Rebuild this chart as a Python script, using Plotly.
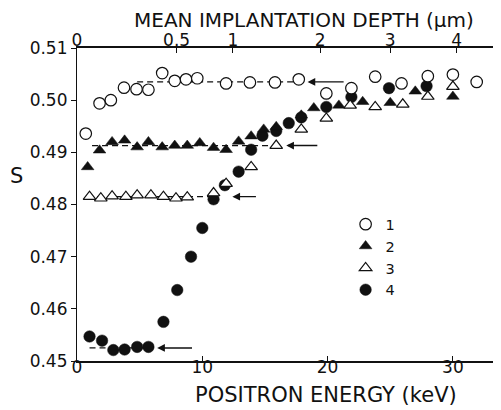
import plotly.graph_objects as go

# ---------------- data ----------------
e1 = [0.7, 1.8, 2.7, 3.75, 4.75, 5.7, 6.8, 7.8, 8.7, 9.6, 11.9, 13.8, 15.8, 17.7,
      19.9, 21.9, 23.8, 25.9, 28.0, 30.0, 31.9]
s1 = [0.4936, 0.4994, 0.5000, 0.5024, 0.5021, 0.5020, 0.5052, 0.5037, 0.5040, 0.5042,
      0.5032, 0.5034, 0.5034, 0.5040, 0.5013, 0.5023, 0.5045, 0.5032, 0.5046, 0.5049, 0.5035]

e2 = [0.85, 1.8, 2.8, 3.8, 4.8, 5.7, 6.8, 7.8, 8.8, 9.8, 10.9, 11.9, 12.9, 13.9, 14.9,
      15.9, 17.9, 18.9, 20.9, 22.8, 25.0, 27.0, 30.0]
s2 = [0.4872, 0.4904, 0.4920, 0.4923, 0.4910, 0.4920, 0.4910, 0.4913, 0.4913, 0.4918,
      0.4909, 0.4905, 0.4921, 0.4931, 0.4944, 0.4949, 0.4971, 0.4985, 0.4990, 0.4997,
      0.4995, 0.5017, 0.5007]

e3 = [1.0, 1.9, 2.8, 3.9, 4.8, 5.9, 6.9, 7.9, 8.8, 10.9, 11.9, 13.9, 15.9, 17.9, 19.9,
      21.8, 23.8, 26.0, 28.0, 30.0]
s3 = [0.4815, 0.4812, 0.4816, 0.4815, 0.4818, 0.4818, 0.4815, 0.4812, 0.4814, 0.4822,
      0.4840, 0.4872, 0.4913, 0.4944, 0.4965, 0.4990, 0.4987, 0.4992, 0.5007, 0.5026]

e4 = [1.0, 2.0, 2.9, 3.8, 4.8, 5.7, 6.9, 8.0, 9.1, 10.0, 10.9, 11.8, 12.9, 13.9, 14.8,
      15.9, 16.9, 17.9, 19.9, 21.9, 24.9, 27.9]
s4 = [0.4547, 0.4539, 0.4521, 0.4522, 0.4527, 0.4527, 0.4575, 0.4636, 0.4700, 0.4755,
      0.4810, 0.4837, 0.4863, 0.4905, 0.4932, 0.4941, 0.4956, 0.4967, 0.4987, 0.5006,
      0.5023, 0.5027]

series_names = ["1", "2", "3", "4"]

# plateau guide lines (dashed) and arrows, per series 1..4
plateau_level = [0.5035, 0.4913, 0.4815, 0.4525]
plateau_from = [4.8, 1.2, 0.8, 1.0]
plateau_to = [17.7, 15.5, 11.0, 6.0]
arrow_tail = [21.4, 19.3, 14.4, 9.3]
arrow_head = [18.4, 16.7, 12.4, 6.4]

# top axis: mean implantation depth (um) ticks at positron energies (keV)
depth_labels = ["0", "0.5", "1", "2", "3", "4"]
depth_tick_energy = [0.0, 7.95, 12.45, 19.4, 25.0, 30.3]

x_ticks = [0, 10, 20, 30]
y_ticks = [0.45, 0.46, 0.47, 0.48, 0.49, 0.50, 0.51]
y_tick_text = ["0.45", "0.46", "0.47", "0.48", "0.49", "0.50", "0.51"]

# ---------------- figure ----------------
FONT = "DejaVu Sans"
INK = "#111111"
fig = go.Figure()

for lvl, a, b in zip(plateau_level, plateau_from, plateau_to):
    fig.add_trace(go.Scatter(x=[a, b], y=[lvl, lvl], mode="lines",
                             line=dict(color=INK, width=1.2, dash="6px,4px"),
                             showlegend=False, hoverinfo="skip"))

mk_size = 11.5
tri_size = 11
fig.add_trace(go.Scatter(x=e4, y=s4, mode="markers", name=series_names[3], legendrank=4,
                         marker=dict(symbol="circle", size=mk_size, color=INK,
                                     line=dict(color=INK, width=0.5))))
fig.add_trace(go.Scatter(x=e2, y=s2, mode="markers", name=series_names[1], legendrank=2,
                         marker=dict(symbol="triangle-up", size=tri_size, color=INK,
                                     line=dict(color=INK, width=0.5))))
fig.add_trace(go.Scatter(x=e3, y=s3, mode="markers", name=series_names[2], legendrank=3,
                         marker=dict(symbol="triangle-up", size=tri_size, color="white",
                                     line=dict(color=INK, width=1.2))))
fig.add_trace(go.Scatter(x=e1, y=s1, mode="markers", name=series_names[0], legendrank=1,
                         marker=dict(symbol="circle", size=mk_size, color="white",
                                     line=dict(color=INK, width=1.2))))

# invisible trace to activate the top axis
fig.add_trace(go.Scatter(x=depth_tick_energy, y=[None] * len(depth_tick_energy),
                         xaxis="x2", showlegend=False, hoverinfo="skip"))

for lvl, t, h in zip(plateau_level, arrow_tail, arrow_head):
    fig.add_annotation(x=h, y=lvl, ax=t, ay=lvl, xref="x", yref="y", axref="x", ayref="y",
                       text="", showarrow=True, arrowhead=2, arrowsize=1.1,
                       arrowwidth=1.4, arrowcolor=INK)

XR = [0, 33.76]
# page body has an 8px margin, so the figure is 8px smaller than the window
fig.update_layout(
    width=493, height=402,
    margin=dict(l=69, r=1, t=40, b=49, autoexpand=False),
    paper_bgcolor="white", plot_bgcolor="white",
    font=dict(family=FONT, size=17, color=INK),
    showlegend=True,
    legend=dict(x=0.635, y=0.488, xanchor="left", yanchor="top",
                bgcolor="rgba(0,0,0,0)", font=dict(size=14.5, family=FONT),
                itemwidth=30, tracegroupgap=0),
    xaxis=dict(range=XR, tickvals=x_ticks, ticks="inside", ticklen=5, tickwidth=1,
               tickcolor=INK, showline=True, linecolor=INK, linewidth=1.5,
               showgrid=False, zeroline=False, tickfont=dict(size=17),
               automargin=False, ticklabelstandoff=-10),
    xaxis2=dict(range=XR, overlaying="x", side="top", tickvals=depth_tick_energy,
                ticktext=depth_labels, ticks="inside", ticklen=5, tickwidth=1,
                tickcolor=INK, showline=True, linecolor=INK, linewidth=1.5,
                showgrid=False, zeroline=False, tickfont=dict(size=17),
                automargin=False, ticklabelstandoff=-7),
    yaxis=dict(range=[0.45, 0.51], tickvals=y_ticks, ticktext=y_tick_text,
               ticks="outside", ticklen=5, tickwidth=1, tickcolor=INK,
               showline=True, linecolor=INK, linewidth=1.2, showgrid=False,
               zeroline=False, tickfont=dict(size=17), automargin=False),
)

fig.add_annotation(text="POSITRON ENERGY (keV)", xref="paper", yref="paper",
                   x=0.5887, y=-0.1086, xanchor="center", yanchor="middle",
                   showarrow=False, font=dict(size=21, family=FONT))
fig.add_annotation(text="MEAN IMPLANTATION DEPTH (μm)", xref="paper", yref="paper",
                   x=0.5355, y=1.091, xanchor="center", yanchor="middle",
                   showarrow=False, font=dict(size=20, family=FONT))
fig.add_annotation(text="S", xref="paper", yref="paper", x=-0.1442, y=0.591,
                   xanchor="center", yanchor="middle", showarrow=False,
                   font=dict(size=21, family=FONT))

fig.write_html("out.html", config={"displayModeBar": False})
